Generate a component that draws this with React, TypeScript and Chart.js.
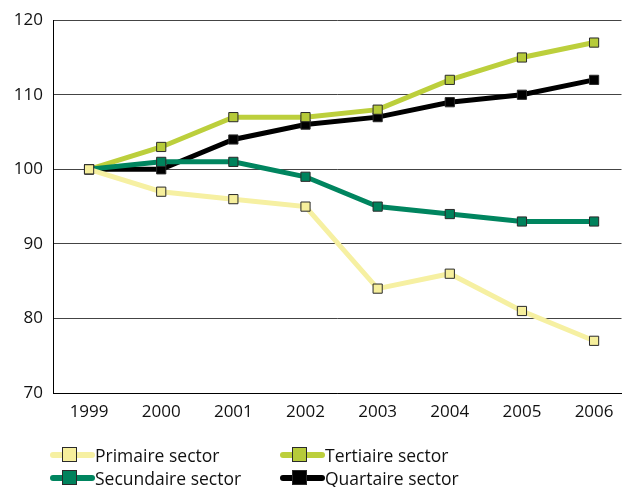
import React, { useEffect, useRef } from "react";
import { Chart, registerables } from "chart.js";

Chart.register(...registerables);

const years = ["1999", "2000", "2001", "2002", "2003", "2004", "2005", "2006"];
const primaire = [100, 97, 96, 95, 84, 86, 81, 77];
const secundaire = [100, 101, 101, 99, 95, 94, 93, 93];
const tertiaire = [100, 103, 107, 107, 108, 112, 115, 117];
const quartaire = [100, 100, 104, 106, 107, 109, 110, 112];
const yTicks = [70, 80, 90, 100, 110, 120];

const FONT = "'Open Sans', sans-serif";

const series = [
  { label: "Quartaire sector", data: quartaire, line: "#000000", fill: "#000000", order: 4 },
  { label: "Tertiaire sector", data: tertiaire, line: "#bccf3c", fill: "#b6cb3a", order: 3 },
  { label: "Secundaire sector", data: secundaire, line: "#00855f", fill: "#00825c", order: 2 },
  { label: "Primaire sector", data: primaire, line: "#f6f0a2", fill: "#f6ef9c", order: 1 },
];

const legendItems = [
  { label: "Primaire sector", line: "#f6f0a2", fill: "#f6ef9c", x: 50, y: 455 },
  { label: "Tertiaire sector", line: "#bccf3c", fill: "#b6cb3a", x: 280, y: 455 },
  { label: "Secundaire sector", line: "#00855f", fill: "#00825c", x: 50, y: 478 },
  { label: "Quartaire sector", line: "#000000", fill: "#000000", x: 280, y: 478 },
];

export default function App() {
  const ref = useRef<HTMLCanvasElement | null>(null);

  useEffect(() => {
    document.body.style.margin = "0";
    const ctx = ref.current!;
    const chart = new Chart(ctx, {
      type: "line",
      data: {
        datasets: series.map((s) => ({
          label: s.label,
          data: s.data.map((v, i) => ({ x: i, y: v })),
          borderColor: s.line,
          backgroundColor: s.fill,
          borderWidth: 5,
          pointStyle: "rect",
          pointRadius: 6.5,
          pointBorderColor: "#2a2a2a",
          pointBorderWidth: 1,
          pointBackgroundColor: s.fill,
          tension: 0,
          order: s.order,
        })),
      },
      options: {
        animation: false,
        responsive: false,
        layout: { padding: { top: 20, right: 0, left: 0, bottom: 0 } },
        plugins: { legend: { display: false }, tooltip: { enabled: false } },
        scales: {
          x: {
            type: "linear",
            min: -0.5,
            max: 7.38,
            afterBuildTicks: (scale: any) => {
              scale.ticks = years.map((_, i) => ({ value: i }));
            },
            afterFit: (scale: any) => {
              scale.height = 94;
            },
            grid: { display: false, drawTicks: false },
            border: { display: true, color: "#000", width: 1 },
            ticks: {
              padding: 9,
              color: "#111",
              font: { family: FONT, size: 17 },
              callback: (v: any) => years[v as number] ?? "",
              maxRotation: 0,
              autoSkip: false,
            },
          },
          y: {
            min: 70,
            max: 120,
            afterBuildTicks: (scale: any) => {
              scale.ticks = yTicks.map((v) => ({ value: v }));
            },
            afterFit: (scale: any) => {
              scale.width = 53;
            },
            grid: { color: "#444", lineWidth: 1, drawTicks: false },
            border: { display: true, color: "#000", width: 1 },
            ticks: {
              padding: 10,
              color: "#111",
              font: { family: FONT, size: 17 },
            },
          },
        },
      },
    });
    return () => chart.destroy();
  }, []);

  return (
    <div style={{ position: "relative", width: 629, height: 487, background: "#fff", overflow: "hidden" }}>
      <canvas ref={ref} width={629} height={487} style={{ display: "block" }} />
      {legendItems.map((it) => (
        <div
          key={it.label}
          style={{
            position: "absolute",
            left: it.x,
            top: it.y - 12,
            height: 24,
            display: "flex",
            alignItems: "center",
            fontFamily: FONT,
            fontSize: 17.5,
            color: "#111",
            whiteSpace: "nowrap",
          }}
        >
          <span style={{ position: "relative", width: 45, height: 24, display: "inline-block" }}>
            <span
              style={{
                position: "absolute",
                left: 0,
                top: 9,
                width: 45,
                height: 6,
                borderRadius: 3,
                background: it.line,
              }}
            />
            <span
              style={{
                position: "absolute",
                left: 12,
                top: 4,
                width: 13,
                height: 13,
                background: it.fill,
                border: "1px solid #2a2a2a",
              }}
            />
          </span>
          <span style={{ marginLeft: 0 }}>{it.label}</span>
        </div>
      ))}
    </div>
  );
}
